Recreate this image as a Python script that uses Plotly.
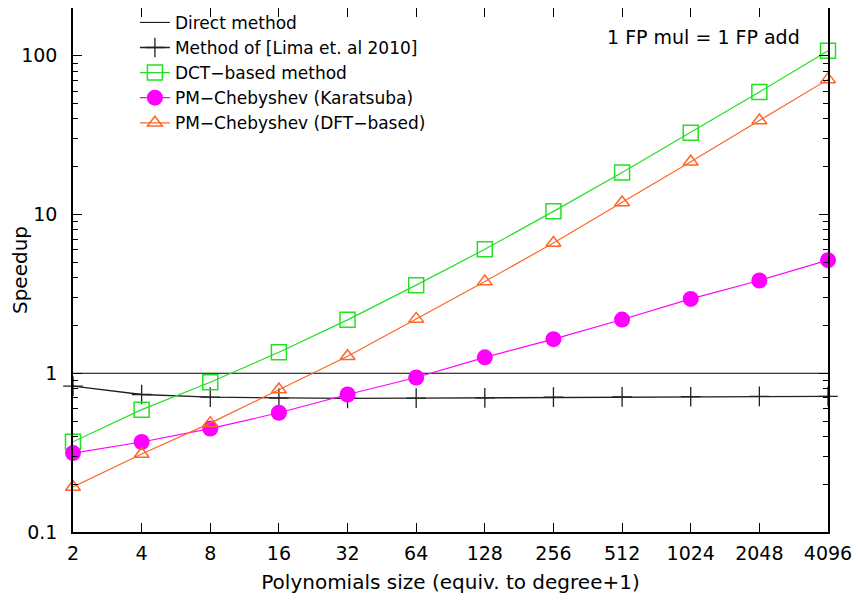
import math
import plotly.graph_objects as go

sizes = [2, 4, 8, 16, 32, 64, 128, 256, 512, 1024, 2048, 4096]
size_labels = ["2", "4", "8", "16", "32", "64", "128", "256", "512", "1024", "2048", "4096"]

direct = [1, 1, 1, 1, 1, 1, 1, 1, 1, 1, 1, 1]
lima = [0.83, 0.735, 0.707, 0.697, 0.694, 0.697, 0.70, 0.707, 0.71, 0.712, 0.715, 0.715]
dct = [0.37, 0.59, 0.878, 1.355, 2.17, 3.59, 6.04, 10.47, 18.4, 32.8, 59.2, 107.5]
karatsuba = [0.314, 0.369, 0.448, 0.564, 0.735, 0.94, 1.26, 1.64, 2.18, 2.94, 3.84, 5.16]
dft = [0.192, 0.31, 0.485, 0.79, 1.28, 2.2, 3.78, 6.62, 11.9, 21.5, 39.1, 71.0]

y_ticks = [0.1, 1, 10, 100]
y_tick_labels = ["0.1", "1", "10", "100"]

FONT = "DejaVu Sans"
FS = 19

minor_y = [m * 10 ** e for e in range(-1, 3) for m in range(2, 10) if m * 10 ** e <= 200]

fig = go.Figure()
fig.add_trace(go.Scatter(x=sizes, y=direct, mode="lines", name="Direct method",
                         line=dict(color="black", width=1)))
fig.add_trace(go.Scatter(x=sizes, y=lima, mode="lines+markers", name="Method of [Lima et. al 2010]",
                         line=dict(color="#202020", width=1.3),
                         marker=dict(symbol="cross-thin-open", size=14,
                                     line=dict(color="#202020", width=1.3))))
fig.add_trace(go.Scatter(x=sizes, y=dct, mode="lines+markers", name="DCT\u2212based method",
                         line=dict(color="#22e022", width=1.2),
                         marker=dict(symbol="square-open", size=15, color="#22e022",
                                     line=dict(color="#22e022", width=1.5))))
fig.add_trace(go.Scatter(x=sizes, y=karatsuba, mode="lines+markers", name="PM\u2212Chebyshev (Karatsuba)",
                         line=dict(color="#ff00ff", width=1.2),
                         marker=dict(symbol="circle", size=16, color="#ff00ff")))
fig.add_trace(go.Scatter(x=sizes, y=dft, mode="lines+markers", name="PM\u2212Chebyshev (DFT\u2212based)",
                         line=dict(color="#ff6428", width=1.2),
                         marker=dict(symbol="triangle-up-open", size=13, color="#ff6428",
                                     line=dict(color="#ff6428", width=1.5))))
fig.update_traces(cliponaxis=False)

fig.update_layout(
    width=852, height=598,
    margin=dict(l=65, r=32, t=0, b=74, autoexpand=False),
    paper_bgcolor="white", plot_bgcolor="white",
    font=dict(family=FONT, size=FS, color="black"),
    showlegend=True,
    legend=dict(x=0.082, y=1.006, xanchor="left", yanchor="top",
                bgcolor="rgba(0,0,0,0)", borderwidth=0,
                font=dict(family=FONT, size=17), itemsizing="trace"),
    xaxis=dict(type="log", range=[math.log10(2) - 1e-6, math.log10(4096) + 1e-6],
               tickvals=sizes, ticktext=size_labels,
               ticks="inside", ticklen=9, tickwidth=1.2, tickcolor="black",
               ticklabelstandoff=3, automargin=False,
               showline=True, linecolor="black", linewidth=1.5, mirror="allticks",
               showgrid=False, zeroline=False,
               title=dict(text="Polynomials size (equiv. to degree+1)", standoff=12,
                          font=dict(family=FONT, size=20))),
    yaxis=dict(type="log", range=[-1 - 1e-6, math.log10(200)],
               tickvals=y_ticks, ticktext=y_tick_labels,
               ticks="inside", ticklen=9, tickwidth=1.2, tickcolor="black",
               ticklabelstandoff=10, automargin=False,
               showline=True, linecolor="black", linewidth=1.5, mirror="allticks",
               showgrid=False, zeroline=False,
               minor=dict(tickvals=minor_y, ticks="inside", ticklen=5, tickcolor="black",
                          tickwidth=1, showgrid=False),
               title=dict(text="Speedup", standoff=4, font=dict(family=FONT, size=20))),
    annotations=[dict(text="1 FP mul = 1 FP add", xref="paper", yref="paper",
                      x=0.966, y=0.945, xanchor="right", yanchor="middle",
                      showarrow=False, font=dict(family=FONT, size=FS))],
)

fig.write_html("out.html")
